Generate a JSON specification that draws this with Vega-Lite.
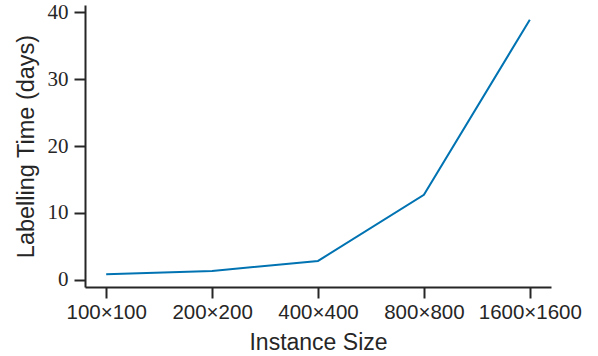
{
  "$schema": "https://vega.github.io/schema/vega-lite/v6.json",
  "width": 466,
  "height": 282,
  "autosize": "none",
  "padding": {"left": 85, "top": 5, "right": 47, "bottom": 69},
  "background": "white",
  "config": {"view": {"stroke": null}},
  "data": {"values": [
    {"size": "100×100", "days": 0.8},
    {"size": "200×200", "days": 1.3},
    {"size": "400×400", "days": 2.8},
    {"size": "800×800", "days": 12.7},
    {"size": "1600×1600", "days": 38.9}
  ]},
  "mark": {"type": "line", "color": "#0173b2", "strokeWidth": 2},
  "encoding": {
    "x": {"field": "size", "type": "ordinal", "sort": null,
      "scale": {"type": "point", "padding": 0.2},
      "axis": {"title": "Instance Size", "labelAngle": 0, "grid": false,
        "domainColor": "#262626", "domainWidth": 2, "tickColor": "#262626", "tickWidth": 2, "tickSize": 11,
        "labelFont": "Liberation Sans", "labelFontSize": 20.5, "labelColor": "#262626", "labelPadding": 4,
        "titleFont": "Liberation Sans", "titleFontSize": 23, "titleFontWeight": "normal", "titleColor": "#262626", "titlePadding": 9}},
    "y": {"field": "days", "type": "quantitative",
      "scale": {"domain": [-1.1, 41.1], "nice": false, "zero": false},
      "axis": {"title": "Labelling Time (days)", "values": [0, 10, 20, 30, 40], "grid": false,
        "domainColor": "#262626", "domainWidth": 2, "tickColor": "#262626", "tickWidth": 2, "tickSize": 11,
        "labelFont": "Liberation Serif", "labelFontSize": 21, "labelColor": "#262626", "labelPadding": 6,
        "titleFont": "Liberation Sans", "titleFontSize": 23.5, "titleFontWeight": "normal", "titleColor": "#262626", "titlePadding": 9}}
  }
}
